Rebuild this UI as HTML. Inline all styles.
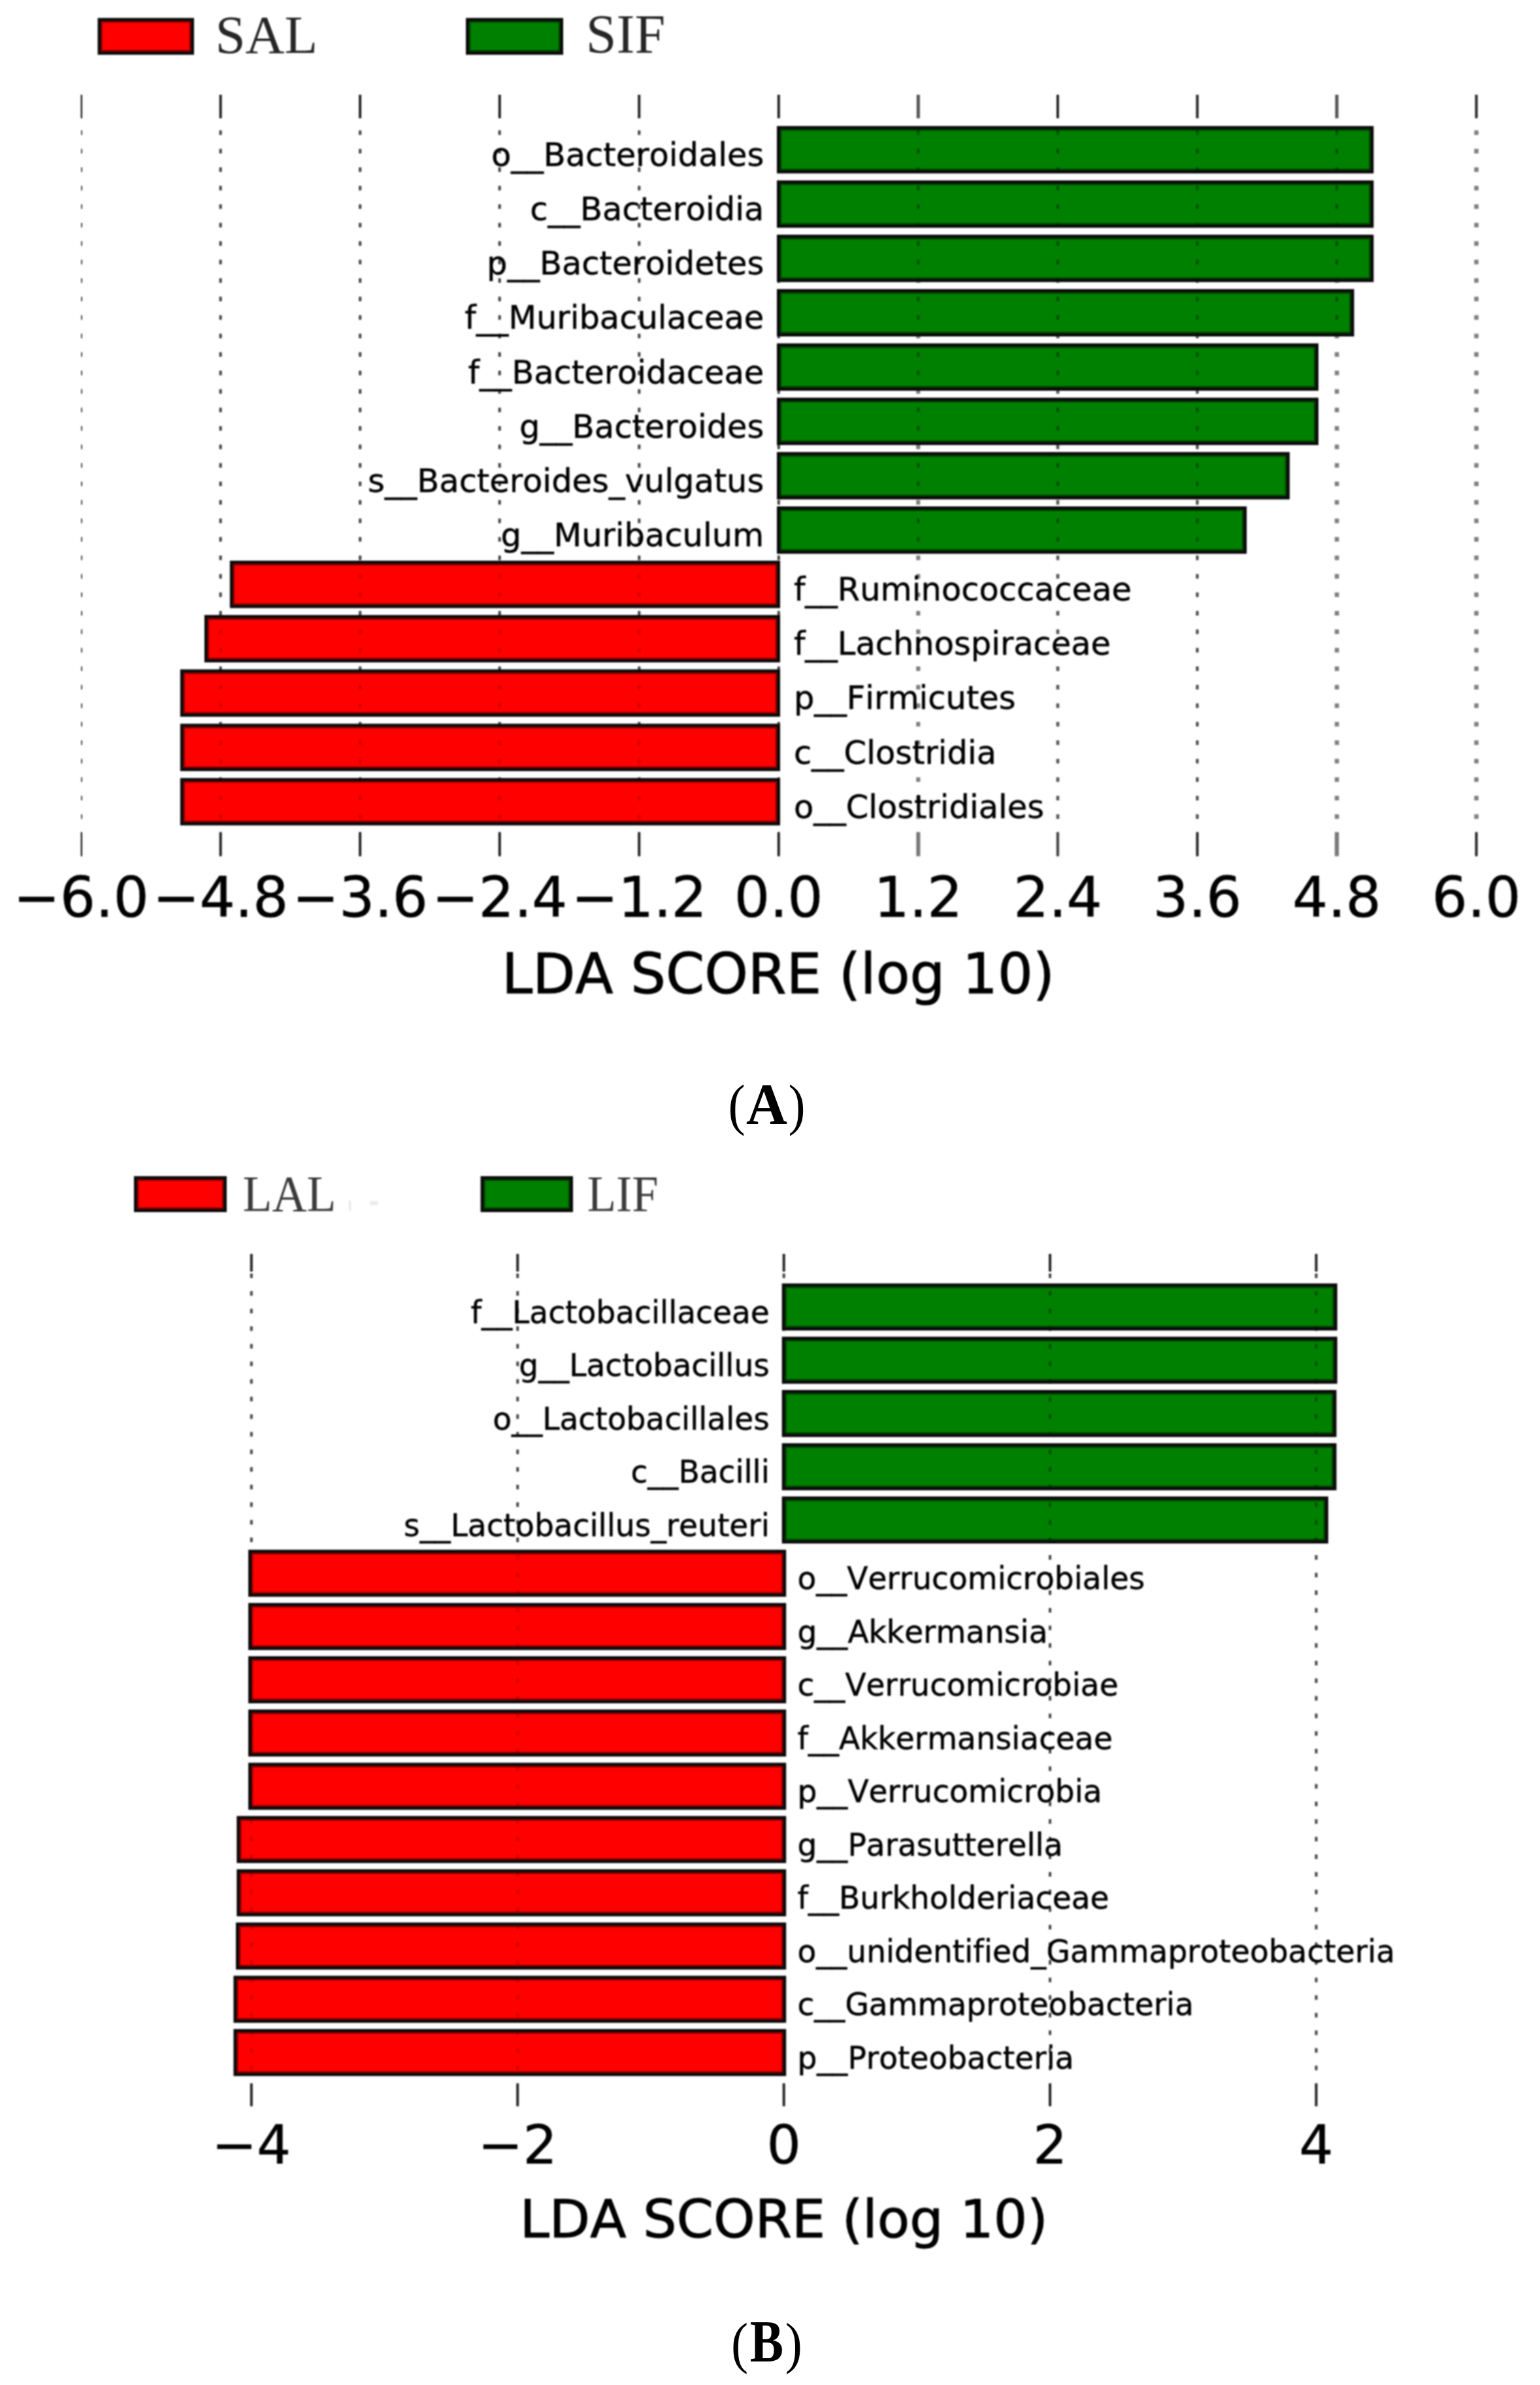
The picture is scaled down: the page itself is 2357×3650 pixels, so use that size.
<!DOCTYPE html>
<html lang="en"><head><meta charset="utf-8"><title>LDA SCORE figure</title>
<style>html,body{margin:0;padding:0;background:#fff}svg{display:block}</style></head>
<body>
<svg width="2357" height="3650" viewBox="0 0 2357 3650">
<rect width="2357" height="3650" fill="#fff"/>
<defs><filter id="soft" x="0" y="0" width="100%" height="100%" filterUnits="objectBoundingBox" color-interpolation-filters="sRGB"><feGaussianBlur stdDeviation="1"/></filter></defs>
<g filter="url(#soft)">
<rect width="2357" height="3650" fill="#fff"/>
<rect x="149.5" y="27.5" width="147.5" height="56.3" fill="#0a0a0a"/>
<rect x="154.2" y="32.2" width="138.1" height="46.9" fill="#8a0000"/>
<rect x="156.7" y="34.7" width="133.1" height="41.9" fill="#ff0000"/>
<rect x="713.0" y="27.5" width="149.0" height="56.3" fill="#0a0a0a"/>
<rect x="717.7" y="32.2" width="139.6" height="46.9" fill="#004400"/>
<rect x="720.2" y="34.7" width="134.6" height="41.9" fill="#008000"/>
<text x="329.4" y="80.5" font-family="Liberation Serif, serif" font-size="83" fill="#262626">SAL</text>
<text x="896.8" y="80.5" font-family="Liberation Serif, serif" font-size="84" fill="#262626">SIF</text>
<g fill="#484848" opacity="1.0"><rect x="124.0" y="199.5" width="2.0" height="7.0"/><rect x="124.0" y="227.8" width="2.0" height="7.0"/><rect x="124.0" y="256.1" width="2.0" height="7.0"/><rect x="124.0" y="284.4" width="2.0" height="7.0"/><rect x="124.0" y="312.7" width="2.0" height="7.0"/><rect x="124.0" y="341.0" width="2.0" height="7.0"/><rect x="124.0" y="369.2" width="2.0" height="7.0"/><rect x="124.0" y="397.5" width="2.0" height="7.0"/><rect x="124.0" y="425.8" width="2.0" height="7.0"/><rect x="124.0" y="454.1" width="2.0" height="7.0"/><rect x="124.0" y="482.4" width="2.0" height="7.0"/><rect x="124.0" y="510.7" width="2.0" height="7.0"/><rect x="124.0" y="539.0" width="2.0" height="7.0"/><rect x="124.0" y="567.3" width="2.0" height="7.0"/><rect x="124.0" y="595.6" width="2.0" height="7.0"/><rect x="124.0" y="623.9" width="2.0" height="7.0"/><rect x="124.0" y="652.1" width="2.0" height="7.0"/><rect x="124.0" y="680.4" width="2.0" height="7.0"/><rect x="124.0" y="708.7" width="2.0" height="7.0"/><rect x="124.0" y="737.0" width="2.0" height="7.0"/><rect x="124.0" y="765.3" width="2.0" height="7.0"/><rect x="124.0" y="793.6" width="2.0" height="7.0"/><rect x="124.0" y="821.9" width="2.0" height="7.0"/><rect x="124.0" y="850.2" width="2.0" height="7.0"/><rect x="124.0" y="878.5" width="2.0" height="7.0"/><rect x="124.0" y="906.7" width="2.0" height="7.0"/><rect x="124.0" y="935.0" width="2.0" height="7.0"/><rect x="124.0" y="963.3" width="2.0" height="7.0"/><rect x="124.0" y="991.6" width="2.0" height="7.0"/><rect x="124.0" y="1019.9" width="2.0" height="7.0"/><rect x="124.0" y="1048.2" width="2.0" height="7.0"/><rect x="124.0" y="1076.5" width="2.0" height="7.0"/><rect x="124.0" y="1104.8" width="2.0" height="7.0"/><rect x="124.0" y="1133.1" width="2.0" height="7.0"/><rect x="124.0" y="1161.4" width="2.0" height="7.0"/><rect x="124.0" y="1189.6" width="2.0" height="7.0"/><rect x="124.0" y="1217.9" width="2.0" height="7.0"/><rect x="124.0" y="1246.2" width="2.0" height="7.0"/></g>
<g fill="#484848" opacity="1.0"><rect x="335.5" y="199.5" width="4.1" height="7.0"/><rect x="335.5" y="227.8" width="4.1" height="7.0"/><rect x="335.5" y="256.1" width="4.1" height="7.0"/><rect x="335.5" y="284.4" width="4.1" height="7.0"/><rect x="335.5" y="312.7" width="4.1" height="7.0"/><rect x="335.5" y="341.0" width="4.1" height="7.0"/><rect x="335.5" y="369.2" width="4.1" height="7.0"/><rect x="335.5" y="397.5" width="4.1" height="7.0"/><rect x="335.5" y="425.8" width="4.1" height="7.0"/><rect x="335.5" y="454.1" width="4.1" height="7.0"/><rect x="335.5" y="482.4" width="4.1" height="7.0"/><rect x="335.5" y="510.7" width="4.1" height="7.0"/><rect x="335.5" y="539.0" width="4.1" height="7.0"/><rect x="335.5" y="567.3" width="4.1" height="7.0"/><rect x="335.5" y="595.6" width="4.1" height="7.0"/><rect x="335.5" y="623.9" width="4.1" height="7.0"/><rect x="335.5" y="652.1" width="4.1" height="7.0"/><rect x="335.5" y="680.4" width="4.1" height="7.0"/><rect x="335.5" y="708.7" width="4.1" height="7.0"/><rect x="335.5" y="737.0" width="4.1" height="7.0"/><rect x="335.5" y="765.3" width="4.1" height="7.0"/><rect x="335.5" y="793.6" width="4.1" height="7.0"/><rect x="335.5" y="821.9" width="4.1" height="7.0"/><rect x="335.5" y="850.2" width="4.1" height="7.0"/><rect x="335.5" y="878.5" width="4.1" height="7.0"/><rect x="335.5" y="906.7" width="4.1" height="7.0"/><rect x="335.5" y="935.0" width="4.1" height="7.0"/><rect x="335.5" y="963.3" width="4.1" height="7.0"/><rect x="335.5" y="991.6" width="4.1" height="7.0"/><rect x="335.5" y="1019.9" width="4.1" height="7.0"/><rect x="335.5" y="1048.2" width="4.1" height="7.0"/><rect x="335.5" y="1076.5" width="4.1" height="7.0"/><rect x="335.5" y="1104.8" width="4.1" height="7.0"/><rect x="335.5" y="1133.1" width="4.1" height="7.0"/><rect x="335.5" y="1161.4" width="4.1" height="7.0"/><rect x="335.5" y="1189.6" width="4.1" height="7.0"/><rect x="335.5" y="1217.9" width="4.1" height="7.0"/><rect x="335.5" y="1246.2" width="4.1" height="7.0"/></g>
<g fill="#484848" opacity="1.0"><rect x="549.1" y="199.5" width="4.1" height="7.0"/><rect x="549.1" y="227.8" width="4.1" height="7.0"/><rect x="549.1" y="256.1" width="4.1" height="7.0"/><rect x="549.1" y="284.4" width="4.1" height="7.0"/><rect x="549.1" y="312.7" width="4.1" height="7.0"/><rect x="549.1" y="341.0" width="4.1" height="7.0"/><rect x="549.1" y="369.2" width="4.1" height="7.0"/><rect x="549.1" y="397.5" width="4.1" height="7.0"/><rect x="549.1" y="425.8" width="4.1" height="7.0"/><rect x="549.1" y="454.1" width="4.1" height="7.0"/><rect x="549.1" y="482.4" width="4.1" height="7.0"/><rect x="549.1" y="510.7" width="4.1" height="7.0"/><rect x="549.1" y="539.0" width="4.1" height="7.0"/><rect x="549.1" y="567.3" width="4.1" height="7.0"/><rect x="549.1" y="595.6" width="4.1" height="7.0"/><rect x="549.1" y="623.9" width="4.1" height="7.0"/><rect x="549.1" y="652.1" width="4.1" height="7.0"/><rect x="549.1" y="680.4" width="4.1" height="7.0"/><rect x="549.1" y="708.7" width="4.1" height="7.0"/><rect x="549.1" y="737.0" width="4.1" height="7.0"/><rect x="549.1" y="765.3" width="4.1" height="7.0"/><rect x="549.1" y="793.6" width="4.1" height="7.0"/><rect x="549.1" y="821.9" width="4.1" height="7.0"/><rect x="549.1" y="850.2" width="4.1" height="7.0"/><rect x="549.1" y="878.5" width="4.1" height="7.0"/><rect x="549.1" y="906.7" width="4.1" height="7.0"/><rect x="549.1" y="935.0" width="4.1" height="7.0"/><rect x="549.1" y="963.3" width="4.1" height="7.0"/><rect x="549.1" y="991.6" width="4.1" height="7.0"/><rect x="549.1" y="1019.9" width="4.1" height="7.0"/><rect x="549.1" y="1048.2" width="4.1" height="7.0"/><rect x="549.1" y="1076.5" width="4.1" height="7.0"/><rect x="549.1" y="1104.8" width="4.1" height="7.0"/><rect x="549.1" y="1133.1" width="4.1" height="7.0"/><rect x="549.1" y="1161.4" width="4.1" height="7.0"/><rect x="549.1" y="1189.6" width="4.1" height="7.0"/><rect x="549.1" y="1217.9" width="4.1" height="7.0"/><rect x="549.1" y="1246.2" width="4.1" height="7.0"/></g>
<g fill="#484848" opacity="1.0"><rect x="762.6" y="199.5" width="4.1" height="7.0"/><rect x="762.6" y="227.8" width="4.1" height="7.0"/><rect x="762.6" y="256.1" width="4.1" height="7.0"/><rect x="762.6" y="284.4" width="4.1" height="7.0"/><rect x="762.6" y="312.7" width="4.1" height="7.0"/><rect x="762.6" y="341.0" width="4.1" height="7.0"/><rect x="762.6" y="369.2" width="4.1" height="7.0"/><rect x="762.6" y="397.5" width="4.1" height="7.0"/><rect x="762.6" y="425.8" width="4.1" height="7.0"/><rect x="762.6" y="454.1" width="4.1" height="7.0"/><rect x="762.6" y="482.4" width="4.1" height="7.0"/><rect x="762.6" y="510.7" width="4.1" height="7.0"/><rect x="762.6" y="539.0" width="4.1" height="7.0"/><rect x="762.6" y="567.3" width="4.1" height="7.0"/><rect x="762.6" y="595.6" width="4.1" height="7.0"/><rect x="762.6" y="623.9" width="4.1" height="7.0"/><rect x="762.6" y="652.1" width="4.1" height="7.0"/><rect x="762.6" y="680.4" width="4.1" height="7.0"/><rect x="762.6" y="708.7" width="4.1" height="7.0"/><rect x="762.6" y="737.0" width="4.1" height="7.0"/><rect x="762.6" y="765.3" width="4.1" height="7.0"/><rect x="762.6" y="793.6" width="4.1" height="7.0"/><rect x="762.6" y="821.9" width="4.1" height="7.0"/><rect x="762.6" y="850.2" width="4.1" height="7.0"/><rect x="762.6" y="878.5" width="4.1" height="7.0"/><rect x="762.6" y="906.7" width="4.1" height="7.0"/><rect x="762.6" y="935.0" width="4.1" height="7.0"/><rect x="762.6" y="963.3" width="4.1" height="7.0"/><rect x="762.6" y="991.6" width="4.1" height="7.0"/><rect x="762.6" y="1019.9" width="4.1" height="7.0"/><rect x="762.6" y="1048.2" width="4.1" height="7.0"/><rect x="762.6" y="1076.5" width="4.1" height="7.0"/><rect x="762.6" y="1104.8" width="4.1" height="7.0"/><rect x="762.6" y="1133.1" width="4.1" height="7.0"/><rect x="762.6" y="1161.4" width="4.1" height="7.0"/><rect x="762.6" y="1189.6" width="4.1" height="7.0"/><rect x="762.6" y="1217.9" width="4.1" height="7.0"/><rect x="762.6" y="1246.2" width="4.1" height="7.0"/></g>
<g fill="#484848" opacity="1.0"><rect x="976.2" y="199.5" width="4.1" height="7.0"/><rect x="976.2" y="227.8" width="4.1" height="7.0"/><rect x="976.2" y="256.1" width="4.1" height="7.0"/><rect x="976.2" y="284.4" width="4.1" height="7.0"/><rect x="976.2" y="312.7" width="4.1" height="7.0"/><rect x="976.2" y="341.0" width="4.1" height="7.0"/><rect x="976.2" y="369.2" width="4.1" height="7.0"/><rect x="976.2" y="397.5" width="4.1" height="7.0"/><rect x="976.2" y="425.8" width="4.1" height="7.0"/><rect x="976.2" y="454.1" width="4.1" height="7.0"/><rect x="976.2" y="482.4" width="4.1" height="7.0"/><rect x="976.2" y="510.7" width="4.1" height="7.0"/><rect x="976.2" y="539.0" width="4.1" height="7.0"/><rect x="976.2" y="567.3" width="4.1" height="7.0"/><rect x="976.2" y="595.6" width="4.1" height="7.0"/><rect x="976.2" y="623.9" width="4.1" height="7.0"/><rect x="976.2" y="652.1" width="4.1" height="7.0"/><rect x="976.2" y="680.4" width="4.1" height="7.0"/><rect x="976.2" y="708.7" width="4.1" height="7.0"/><rect x="976.2" y="737.0" width="4.1" height="7.0"/><rect x="976.2" y="765.3" width="4.1" height="7.0"/><rect x="976.2" y="793.6" width="4.1" height="7.0"/><rect x="976.2" y="821.9" width="4.1" height="7.0"/><rect x="976.2" y="850.2" width="4.1" height="7.0"/><rect x="976.2" y="878.5" width="4.1" height="7.0"/><rect x="976.2" y="906.7" width="4.1" height="7.0"/><rect x="976.2" y="935.0" width="4.1" height="7.0"/><rect x="976.2" y="963.3" width="4.1" height="7.0"/><rect x="976.2" y="991.6" width="4.1" height="7.0"/><rect x="976.2" y="1019.9" width="4.1" height="7.0"/><rect x="976.2" y="1048.2" width="4.1" height="7.0"/><rect x="976.2" y="1076.5" width="4.1" height="7.0"/><rect x="976.2" y="1104.8" width="4.1" height="7.0"/><rect x="976.2" y="1133.1" width="4.1" height="7.0"/><rect x="976.2" y="1161.4" width="4.1" height="7.0"/><rect x="976.2" y="1189.6" width="4.1" height="7.0"/><rect x="976.2" y="1217.9" width="4.1" height="7.0"/><rect x="976.2" y="1246.2" width="4.1" height="7.0"/></g>
<g fill="#484848" opacity="1.0"><rect x="1189.8" y="199.5" width="4.1" height="7.0"/><rect x="1189.8" y="227.8" width="4.1" height="7.0"/><rect x="1189.8" y="256.1" width="4.1" height="7.0"/><rect x="1189.8" y="284.4" width="4.1" height="7.0"/><rect x="1189.8" y="312.7" width="4.1" height="7.0"/><rect x="1189.8" y="341.0" width="4.1" height="7.0"/><rect x="1189.8" y="369.2" width="4.1" height="7.0"/><rect x="1189.8" y="397.5" width="4.1" height="7.0"/><rect x="1189.8" y="425.8" width="4.1" height="7.0"/><rect x="1189.8" y="454.1" width="4.1" height="7.0"/><rect x="1189.8" y="482.4" width="4.1" height="7.0"/><rect x="1189.8" y="510.7" width="4.1" height="7.0"/><rect x="1189.8" y="539.0" width="4.1" height="7.0"/><rect x="1189.8" y="567.3" width="4.1" height="7.0"/><rect x="1189.8" y="595.6" width="4.1" height="7.0"/><rect x="1189.8" y="623.9" width="4.1" height="7.0"/><rect x="1189.8" y="652.1" width="4.1" height="7.0"/><rect x="1189.8" y="680.4" width="4.1" height="7.0"/><rect x="1189.8" y="708.7" width="4.1" height="7.0"/><rect x="1189.8" y="737.0" width="4.1" height="7.0"/><rect x="1189.8" y="765.3" width="4.1" height="7.0"/><rect x="1189.8" y="793.6" width="4.1" height="7.0"/><rect x="1189.8" y="821.9" width="4.1" height="7.0"/><rect x="1189.8" y="850.2" width="4.1" height="7.0"/><rect x="1189.8" y="878.5" width="4.1" height="7.0"/><rect x="1189.8" y="906.7" width="4.1" height="7.0"/><rect x="1189.8" y="935.0" width="4.1" height="7.0"/><rect x="1189.8" y="963.3" width="4.1" height="7.0"/><rect x="1189.8" y="991.6" width="4.1" height="7.0"/><rect x="1189.8" y="1019.9" width="4.1" height="7.0"/><rect x="1189.8" y="1048.2" width="4.1" height="7.0"/><rect x="1189.8" y="1076.5" width="4.1" height="7.0"/><rect x="1189.8" y="1104.8" width="4.1" height="7.0"/><rect x="1189.8" y="1133.1" width="4.1" height="7.0"/><rect x="1189.8" y="1161.4" width="4.1" height="7.0"/><rect x="1189.8" y="1189.6" width="4.1" height="7.0"/><rect x="1189.8" y="1217.9" width="4.1" height="7.0"/><rect x="1189.8" y="1246.2" width="4.1" height="7.0"/></g>
<g fill="#7d7d7d" opacity="1.0"><rect x="1402.3" y="199.5" width="6.1" height="7.0"/><rect x="1402.3" y="227.8" width="6.1" height="7.0"/><rect x="1402.3" y="256.1" width="6.1" height="7.0"/><rect x="1402.3" y="284.4" width="6.1" height="7.0"/><rect x="1402.3" y="312.7" width="6.1" height="7.0"/><rect x="1402.3" y="341.0" width="6.1" height="7.0"/><rect x="1402.3" y="369.2" width="6.1" height="7.0"/><rect x="1402.3" y="397.5" width="6.1" height="7.0"/><rect x="1402.3" y="425.8" width="6.1" height="7.0"/><rect x="1402.3" y="454.1" width="6.1" height="7.0"/><rect x="1402.3" y="482.4" width="6.1" height="7.0"/><rect x="1402.3" y="510.7" width="6.1" height="7.0"/><rect x="1402.3" y="539.0" width="6.1" height="7.0"/><rect x="1402.3" y="567.3" width="6.1" height="7.0"/><rect x="1402.3" y="595.6" width="6.1" height="7.0"/><rect x="1402.3" y="623.9" width="6.1" height="7.0"/><rect x="1402.3" y="652.1" width="6.1" height="7.0"/><rect x="1402.3" y="680.4" width="6.1" height="7.0"/><rect x="1402.3" y="708.7" width="6.1" height="7.0"/><rect x="1402.3" y="737.0" width="6.1" height="7.0"/><rect x="1402.3" y="765.3" width="6.1" height="7.0"/><rect x="1402.3" y="793.6" width="6.1" height="7.0"/><rect x="1402.3" y="821.9" width="6.1" height="7.0"/><rect x="1402.3" y="850.2" width="6.1" height="7.0"/><rect x="1402.3" y="878.5" width="6.1" height="7.0"/><rect x="1402.3" y="906.7" width="6.1" height="7.0"/><rect x="1402.3" y="935.0" width="6.1" height="7.0"/><rect x="1402.3" y="963.3" width="6.1" height="7.0"/><rect x="1402.3" y="991.6" width="6.1" height="7.0"/><rect x="1402.3" y="1019.9" width="6.1" height="7.0"/><rect x="1402.3" y="1048.2" width="6.1" height="7.0"/><rect x="1402.3" y="1076.5" width="6.1" height="7.0"/><rect x="1402.3" y="1104.8" width="6.1" height="7.0"/><rect x="1402.3" y="1133.1" width="6.1" height="7.0"/><rect x="1402.3" y="1161.4" width="6.1" height="7.0"/><rect x="1402.3" y="1189.6" width="6.1" height="7.0"/><rect x="1402.3" y="1217.9" width="6.1" height="7.0"/><rect x="1402.3" y="1246.2" width="6.1" height="7.0"/></g>
<g fill="#5a5a5a" opacity="1.0"><rect x="1616.6" y="199.5" width="4.7" height="7.0"/><rect x="1616.6" y="227.8" width="4.7" height="7.0"/><rect x="1616.6" y="256.1" width="4.7" height="7.0"/><rect x="1616.6" y="284.4" width="4.7" height="7.0"/><rect x="1616.6" y="312.7" width="4.7" height="7.0"/><rect x="1616.6" y="341.0" width="4.7" height="7.0"/><rect x="1616.6" y="369.2" width="4.7" height="7.0"/><rect x="1616.6" y="397.5" width="4.7" height="7.0"/><rect x="1616.6" y="425.8" width="4.7" height="7.0"/><rect x="1616.6" y="454.1" width="4.7" height="7.0"/><rect x="1616.6" y="482.4" width="4.7" height="7.0"/><rect x="1616.6" y="510.7" width="4.7" height="7.0"/><rect x="1616.6" y="539.0" width="4.7" height="7.0"/><rect x="1616.6" y="567.3" width="4.7" height="7.0"/><rect x="1616.6" y="595.6" width="4.7" height="7.0"/><rect x="1616.6" y="623.9" width="4.7" height="7.0"/><rect x="1616.6" y="652.1" width="4.7" height="7.0"/><rect x="1616.6" y="680.4" width="4.7" height="7.0"/><rect x="1616.6" y="708.7" width="4.7" height="7.0"/><rect x="1616.6" y="737.0" width="4.7" height="7.0"/><rect x="1616.6" y="765.3" width="4.7" height="7.0"/><rect x="1616.6" y="793.6" width="4.7" height="7.0"/><rect x="1616.6" y="821.9" width="4.7" height="7.0"/><rect x="1616.6" y="850.2" width="4.7" height="7.0"/><rect x="1616.6" y="878.5" width="4.7" height="7.0"/><rect x="1616.6" y="906.7" width="4.7" height="7.0"/><rect x="1616.6" y="935.0" width="4.7" height="7.0"/><rect x="1616.6" y="963.3" width="4.7" height="7.0"/><rect x="1616.6" y="991.6" width="4.7" height="7.0"/><rect x="1616.6" y="1019.9" width="4.7" height="7.0"/><rect x="1616.6" y="1048.2" width="4.7" height="7.0"/><rect x="1616.6" y="1076.5" width="4.7" height="7.0"/><rect x="1616.6" y="1104.8" width="4.7" height="7.0"/><rect x="1616.6" y="1133.1" width="4.7" height="7.0"/><rect x="1616.6" y="1161.4" width="4.7" height="7.0"/><rect x="1616.6" y="1189.6" width="4.7" height="7.0"/><rect x="1616.6" y="1217.9" width="4.7" height="7.0"/><rect x="1616.6" y="1246.2" width="4.7" height="7.0"/></g>
<g fill="#484848" opacity="1.0"><rect x="1830.4" y="199.5" width="4.1" height="7.0"/><rect x="1830.4" y="227.8" width="4.1" height="7.0"/><rect x="1830.4" y="256.1" width="4.1" height="7.0"/><rect x="1830.4" y="284.4" width="4.1" height="7.0"/><rect x="1830.4" y="312.7" width="4.1" height="7.0"/><rect x="1830.4" y="341.0" width="4.1" height="7.0"/><rect x="1830.4" y="369.2" width="4.1" height="7.0"/><rect x="1830.4" y="397.5" width="4.1" height="7.0"/><rect x="1830.4" y="425.8" width="4.1" height="7.0"/><rect x="1830.4" y="454.1" width="4.1" height="7.0"/><rect x="1830.4" y="482.4" width="4.1" height="7.0"/><rect x="1830.4" y="510.7" width="4.1" height="7.0"/><rect x="1830.4" y="539.0" width="4.1" height="7.0"/><rect x="1830.4" y="567.3" width="4.1" height="7.0"/><rect x="1830.4" y="595.6" width="4.1" height="7.0"/><rect x="1830.4" y="623.9" width="4.1" height="7.0"/><rect x="1830.4" y="652.1" width="4.1" height="7.0"/><rect x="1830.4" y="680.4" width="4.1" height="7.0"/><rect x="1830.4" y="708.7" width="4.1" height="7.0"/><rect x="1830.4" y="737.0" width="4.1" height="7.0"/><rect x="1830.4" y="765.3" width="4.1" height="7.0"/><rect x="1830.4" y="793.6" width="4.1" height="7.0"/><rect x="1830.4" y="821.9" width="4.1" height="7.0"/><rect x="1830.4" y="850.2" width="4.1" height="7.0"/><rect x="1830.4" y="878.5" width="4.1" height="7.0"/><rect x="1830.4" y="906.7" width="4.1" height="7.0"/><rect x="1830.4" y="935.0" width="4.1" height="7.0"/><rect x="1830.4" y="963.3" width="4.1" height="7.0"/><rect x="1830.4" y="991.6" width="4.1" height="7.0"/><rect x="1830.4" y="1019.9" width="4.1" height="7.0"/><rect x="1830.4" y="1048.2" width="4.1" height="7.0"/><rect x="1830.4" y="1076.5" width="4.1" height="7.0"/><rect x="1830.4" y="1104.8" width="4.1" height="7.0"/><rect x="1830.4" y="1133.1" width="4.1" height="7.0"/><rect x="1830.4" y="1161.4" width="4.1" height="7.0"/><rect x="1830.4" y="1189.6" width="4.1" height="7.0"/><rect x="1830.4" y="1217.9" width="4.1" height="7.0"/><rect x="1830.4" y="1246.2" width="4.1" height="7.0"/></g>
<g fill="#808080" opacity="1.0"><rect x="2042.8" y="199.5" width="6.6" height="7.0"/><rect x="2042.8" y="227.8" width="6.6" height="7.0"/><rect x="2042.8" y="256.1" width="6.6" height="7.0"/><rect x="2042.8" y="284.4" width="6.6" height="7.0"/><rect x="2042.8" y="312.7" width="6.6" height="7.0"/><rect x="2042.8" y="341.0" width="6.6" height="7.0"/><rect x="2042.8" y="369.2" width="6.6" height="7.0"/><rect x="2042.8" y="397.5" width="6.6" height="7.0"/><rect x="2042.8" y="425.8" width="6.6" height="7.0"/><rect x="2042.8" y="454.1" width="6.6" height="7.0"/><rect x="2042.8" y="482.4" width="6.6" height="7.0"/><rect x="2042.8" y="510.7" width="6.6" height="7.0"/><rect x="2042.8" y="539.0" width="6.6" height="7.0"/><rect x="2042.8" y="567.3" width="6.6" height="7.0"/><rect x="2042.8" y="595.6" width="6.6" height="7.0"/><rect x="2042.8" y="623.9" width="6.6" height="7.0"/><rect x="2042.8" y="652.1" width="6.6" height="7.0"/><rect x="2042.8" y="680.4" width="6.6" height="7.0"/><rect x="2042.8" y="708.7" width="6.6" height="7.0"/><rect x="2042.8" y="737.0" width="6.6" height="7.0"/><rect x="2042.8" y="765.3" width="6.6" height="7.0"/><rect x="2042.8" y="793.6" width="6.6" height="7.0"/><rect x="2042.8" y="821.9" width="6.6" height="7.0"/><rect x="2042.8" y="850.2" width="6.6" height="7.0"/><rect x="2042.8" y="878.5" width="6.6" height="7.0"/><rect x="2042.8" y="906.7" width="6.6" height="7.0"/><rect x="2042.8" y="935.0" width="6.6" height="7.0"/><rect x="2042.8" y="963.3" width="6.6" height="7.0"/><rect x="2042.8" y="991.6" width="6.6" height="7.0"/><rect x="2042.8" y="1019.9" width="6.6" height="7.0"/><rect x="2042.8" y="1048.2" width="6.6" height="7.0"/><rect x="2042.8" y="1076.5" width="6.6" height="7.0"/><rect x="2042.8" y="1104.8" width="6.6" height="7.0"/><rect x="2042.8" y="1133.1" width="6.6" height="7.0"/><rect x="2042.8" y="1161.4" width="6.6" height="7.0"/><rect x="2042.8" y="1189.6" width="6.6" height="7.0"/><rect x="2042.8" y="1217.9" width="6.6" height="7.0"/><rect x="2042.8" y="1246.2" width="6.6" height="7.0"/></g>
<g fill="#808080" opacity="1.0"><rect x="2256.3" y="199.5" width="6.6" height="7.0"/><rect x="2256.3" y="227.8" width="6.6" height="7.0"/><rect x="2256.3" y="256.1" width="6.6" height="7.0"/><rect x="2256.3" y="284.4" width="6.6" height="7.0"/><rect x="2256.3" y="312.7" width="6.6" height="7.0"/><rect x="2256.3" y="341.0" width="6.6" height="7.0"/><rect x="2256.3" y="369.2" width="6.6" height="7.0"/><rect x="2256.3" y="397.5" width="6.6" height="7.0"/><rect x="2256.3" y="425.8" width="6.6" height="7.0"/><rect x="2256.3" y="454.1" width="6.6" height="7.0"/><rect x="2256.3" y="482.4" width="6.6" height="7.0"/><rect x="2256.3" y="510.7" width="6.6" height="7.0"/><rect x="2256.3" y="539.0" width="6.6" height="7.0"/><rect x="2256.3" y="567.3" width="6.6" height="7.0"/><rect x="2256.3" y="595.6" width="6.6" height="7.0"/><rect x="2256.3" y="623.9" width="6.6" height="7.0"/><rect x="2256.3" y="652.1" width="6.6" height="7.0"/><rect x="2256.3" y="680.4" width="6.6" height="7.0"/><rect x="2256.3" y="708.7" width="6.6" height="7.0"/><rect x="2256.3" y="737.0" width="6.6" height="7.0"/><rect x="2256.3" y="765.3" width="6.6" height="7.0"/><rect x="2256.3" y="793.6" width="6.6" height="7.0"/><rect x="2256.3" y="821.9" width="6.6" height="7.0"/><rect x="2256.3" y="850.2" width="6.6" height="7.0"/><rect x="2256.3" y="878.5" width="6.6" height="7.0"/><rect x="2256.3" y="906.7" width="6.6" height="7.0"/><rect x="2256.3" y="935.0" width="6.6" height="7.0"/><rect x="2256.3" y="963.3" width="6.6" height="7.0"/><rect x="2256.3" y="991.6" width="6.6" height="7.0"/><rect x="2256.3" y="1019.9" width="6.6" height="7.0"/><rect x="2256.3" y="1048.2" width="6.6" height="7.0"/><rect x="2256.3" y="1076.5" width="6.6" height="7.0"/><rect x="2256.3" y="1104.8" width="6.6" height="7.0"/><rect x="2256.3" y="1133.1" width="6.6" height="7.0"/><rect x="2256.3" y="1161.4" width="6.6" height="7.0"/><rect x="2256.3" y="1189.6" width="6.6" height="7.0"/><rect x="2256.3" y="1217.9" width="6.6" height="7.0"/><rect x="2256.3" y="1246.2" width="6.6" height="7.0"/></g>
<rect x="123.5" y="145.0" width="2.5" height="36.0" fill="#262626"/>
<rect x="335.6" y="145.0" width="4.0" height="36.0" fill="#262626"/>
<rect x="549.1" y="145.0" width="4.0" height="36.0" fill="#262626"/>
<rect x="762.7" y="145.0" width="4.0" height="36.0" fill="#262626"/>
<rect x="976.2" y="145.0" width="4.0" height="36.0" fill="#262626"/>
<rect x="1189.8" y="145.0" width="4.0" height="36.0" fill="#262626"/>
<rect x="1402.9" y="145.0" width="5.0" height="36.0" fill="#555"/>
<rect x="1616.9" y="145.0" width="4.0" height="36.0" fill="#262626"/>
<rect x="1830.5" y="145.0" width="4.0" height="36.0" fill="#262626"/>
<rect x="2043.5" y="145.0" width="5.0" height="36.0" fill="#555"/>
<rect x="2257.6" y="145.0" width="4.0" height="36.0" fill="#262626"/>
<rect x="123.5" y="1273.4" width="2.5" height="37.0" fill="#262626"/>
<rect x="335.6" y="1273.4" width="4.0" height="37.0" fill="#262626"/>
<rect x="549.1" y="1273.4" width="4.0" height="37.0" fill="#262626"/>
<rect x="762.7" y="1273.4" width="4.0" height="37.0" fill="#262626"/>
<rect x="976.2" y="1273.4" width="4.0" height="37.0" fill="#262626"/>
<rect x="1189.8" y="1273.4" width="4.0" height="37.0" fill="#262626"/>
<rect x="1402.4" y="1273.4" width="6.0" height="37.0" fill="#777"/>
<rect x="1616.7" y="1273.4" width="4.4" height="37.0" fill="#4a4a4a"/>
<rect x="1830.5" y="1273.4" width="4.0" height="37.0" fill="#262626"/>
<rect x="2042.8" y="1273.4" width="6.4" height="37.0" fill="#7a7a7a"/>
<rect x="2257.6" y="1273.4" width="4.0" height="37.0" fill="#262626"/>
<rect x="1189.0" y="192.9" width="913.4" height="72.5" fill="#0a0a0a"/>
<rect x="1193.7" y="197.6" width="904.0" height="63.1" fill="#004400"/>
<rect x="1196.2" y="200.1" width="899.0" height="58.1" fill="#008000"/>
<rect x="1189.0" y="276.1" width="913.4" height="72.5" fill="#0a0a0a"/>
<rect x="1193.7" y="280.8" width="904.0" height="63.1" fill="#004400"/>
<rect x="1196.2" y="283.2" width="899.0" height="58.1" fill="#008000"/>
<rect x="1189.0" y="359.2" width="913.4" height="72.5" fill="#0a0a0a"/>
<rect x="1193.7" y="363.9" width="904.0" height="63.1" fill="#004400"/>
<rect x="1196.2" y="366.4" width="899.0" height="58.1" fill="#008000"/>
<rect x="1189.0" y="442.4" width="883.5" height="72.5" fill="#0a0a0a"/>
<rect x="1193.7" y="447.1" width="874.1" height="63.1" fill="#004400"/>
<rect x="1196.2" y="449.6" width="869.1" height="58.1" fill="#008000"/>
<rect x="1189.0" y="525.5" width="828.9" height="72.5" fill="#0a0a0a"/>
<rect x="1193.7" y="530.2" width="819.5" height="63.1" fill="#004400"/>
<rect x="1196.2" y="532.7" width="814.5" height="58.1" fill="#008000"/>
<rect x="1189.0" y="608.6" width="828.9" height="72.5" fill="#0a0a0a"/>
<rect x="1193.7" y="613.4" width="819.5" height="63.1" fill="#004400"/>
<rect x="1196.2" y="615.9" width="814.5" height="58.1" fill="#008000"/>
<rect x="1189.0" y="691.8" width="784.9" height="72.5" fill="#0a0a0a"/>
<rect x="1193.7" y="696.5" width="775.5" height="63.1" fill="#004400"/>
<rect x="1196.2" y="699.0" width="770.5" height="58.1" fill="#008000"/>
<rect x="1189.0" y="775.0" width="719.1" height="72.5" fill="#0a0a0a"/>
<rect x="1193.7" y="779.7" width="709.7" height="63.1" fill="#004400"/>
<rect x="1196.2" y="782.2" width="704.7" height="58.1" fill="#008000"/>
<rect x="351.8" y="858.1" width="842.2" height="72.5" fill="#0a0a0a"/>
<rect x="356.5" y="862.8" width="832.8" height="63.1" fill="#8a0000"/>
<rect x="359.0" y="865.3" width="827.8" height="58.1" fill="#ff0000"/>
<rect x="312.8" y="941.2" width="881.2" height="72.5" fill="#0a0a0a"/>
<rect x="317.5" y="946.0" width="871.8" height="63.1" fill="#8a0000"/>
<rect x="320.0" y="948.5" width="866.8" height="58.1" fill="#ff0000"/>
<rect x="275.8" y="1024.4" width="918.2" height="72.5" fill="#0a0a0a"/>
<rect x="280.5" y="1029.1" width="908.8" height="63.1" fill="#8a0000"/>
<rect x="283.0" y="1031.6" width="903.8" height="58.1" fill="#ff0000"/>
<rect x="275.8" y="1107.6" width="918.2" height="72.5" fill="#0a0a0a"/>
<rect x="280.5" y="1112.3" width="908.8" height="63.1" fill="#8a0000"/>
<rect x="283.0" y="1114.8" width="903.8" height="58.1" fill="#ff0000"/>
<rect x="275.8" y="1190.7" width="918.2" height="72.5" fill="#0a0a0a"/>
<rect x="280.5" y="1195.4" width="908.8" height="63.1" fill="#8a0000"/>
<rect x="283.0" y="1197.9" width="903.8" height="58.1" fill="#ff0000"/>
<g fill="#000" opacity="0.36"><rect x="1403.3" y="199.5" width="4.1" height="7.0"/><rect x="1403.3" y="227.8" width="4.1" height="7.0"/><rect x="1403.3" y="256.1" width="4.1" height="4.3"/><rect x="1403.3" y="284.4" width="4.1" height="7.0"/><rect x="1403.3" y="312.7" width="4.1" height="7.0"/><rect x="1403.3" y="341.0" width="4.1" height="2.6"/><rect x="1403.3" y="369.2" width="4.1" height="7.0"/><rect x="1403.3" y="397.5" width="4.1" height="7.0"/><rect x="1403.3" y="425.8" width="4.1" height="0.9"/><rect x="1403.3" y="454.1" width="4.1" height="7.0"/><rect x="1403.3" y="482.4" width="4.1" height="7.0"/><rect x="1403.3" y="539.0" width="4.1" height="7.0"/><rect x="1403.3" y="567.3" width="4.1" height="7.0"/><rect x="1403.3" y="623.9" width="4.1" height="7.0"/><rect x="1403.3" y="652.1" width="4.1" height="7.0"/><rect x="1403.3" y="708.7" width="4.1" height="7.0"/><rect x="1403.3" y="737.0" width="4.1" height="7.0"/><rect x="1403.3" y="793.6" width="4.1" height="7.0"/><rect x="1403.3" y="821.9" width="4.1" height="7.0"/><rect x="1616.9" y="199.5" width="4.1" height="7.0"/><rect x="1616.9" y="227.8" width="4.1" height="7.0"/><rect x="1616.9" y="256.1" width="4.1" height="4.3"/><rect x="1616.9" y="284.4" width="4.1" height="7.0"/><rect x="1616.9" y="312.7" width="4.1" height="7.0"/><rect x="1616.9" y="341.0" width="4.1" height="2.6"/><rect x="1616.9" y="369.2" width="4.1" height="7.0"/><rect x="1616.9" y="397.5" width="4.1" height="7.0"/><rect x="1616.9" y="425.8" width="4.1" height="0.9"/><rect x="1616.9" y="454.1" width="4.1" height="7.0"/><rect x="1616.9" y="482.4" width="4.1" height="7.0"/><rect x="1616.9" y="539.0" width="4.1" height="7.0"/><rect x="1616.9" y="567.3" width="4.1" height="7.0"/><rect x="1616.9" y="623.9" width="4.1" height="7.0"/><rect x="1616.9" y="652.1" width="4.1" height="7.0"/><rect x="1616.9" y="708.7" width="4.1" height="7.0"/><rect x="1616.9" y="737.0" width="4.1" height="7.0"/><rect x="1616.9" y="793.6" width="4.1" height="7.0"/><rect x="1616.9" y="821.9" width="4.1" height="7.0"/><rect x="1830.4" y="199.5" width="4.1" height="7.0"/><rect x="1830.4" y="227.8" width="4.1" height="7.0"/><rect x="1830.4" y="256.1" width="4.1" height="4.3"/><rect x="1830.4" y="284.4" width="4.1" height="7.0"/><rect x="1830.4" y="312.7" width="4.1" height="7.0"/><rect x="1830.4" y="341.0" width="4.1" height="2.6"/><rect x="1830.4" y="369.2" width="4.1" height="7.0"/><rect x="1830.4" y="397.5" width="4.1" height="7.0"/><rect x="1830.4" y="425.8" width="4.1" height="0.9"/><rect x="1830.4" y="454.1" width="4.1" height="7.0"/><rect x="1830.4" y="482.4" width="4.1" height="7.0"/><rect x="1830.4" y="539.0" width="4.1" height="7.0"/><rect x="1830.4" y="567.3" width="4.1" height="7.0"/><rect x="1830.4" y="623.9" width="4.1" height="7.0"/><rect x="1830.4" y="652.1" width="4.1" height="7.0"/><rect x="1830.4" y="708.7" width="4.1" height="7.0"/><rect x="1830.4" y="737.0" width="4.1" height="7.0"/><rect x="1830.4" y="793.6" width="4.1" height="7.0"/><rect x="1830.4" y="821.9" width="4.1" height="7.0"/><rect x="2044.0" y="199.5" width="4.1" height="7.0"/><rect x="2044.0" y="227.8" width="4.1" height="7.0"/><rect x="2044.0" y="256.1" width="4.1" height="4.3"/><rect x="2044.0" y="284.4" width="4.1" height="7.0"/><rect x="2044.0" y="312.7" width="4.1" height="7.0"/><rect x="2044.0" y="341.0" width="4.1" height="2.6"/><rect x="2044.0" y="369.2" width="4.1" height="7.0"/><rect x="2044.0" y="397.5" width="4.1" height="7.0"/><rect x="2044.0" y="425.8" width="4.1" height="0.9"/><rect x="2044.0" y="454.1" width="4.1" height="7.0"/><rect x="2044.0" y="482.4" width="4.1" height="7.0"/></g>
<g fill="#300" opacity="0.2"><rect x="335.5" y="963.3" width="4.1" height="7.0"/><rect x="335.5" y="991.6" width="4.1" height="7.0"/><rect x="335.5" y="1048.2" width="4.1" height="7.0"/><rect x="335.5" y="1076.5" width="4.1" height="7.0"/><rect x="335.5" y="1133.1" width="4.1" height="7.0"/><rect x="335.5" y="1161.4" width="4.1" height="7.0"/><rect x="335.5" y="1195.7" width="4.1" height="0.9"/><rect x="335.5" y="1217.9" width="4.1" height="7.0"/><rect x="335.5" y="1246.2" width="4.1" height="7.0"/><rect x="549.1" y="878.5" width="4.1" height="7.0"/><rect x="549.1" y="906.7" width="4.1" height="7.0"/><rect x="549.1" y="963.3" width="4.1" height="7.0"/><rect x="549.1" y="991.6" width="4.1" height="7.0"/><rect x="549.1" y="1048.2" width="4.1" height="7.0"/><rect x="549.1" y="1076.5" width="4.1" height="7.0"/><rect x="549.1" y="1133.1" width="4.1" height="7.0"/><rect x="549.1" y="1161.4" width="4.1" height="7.0"/><rect x="549.1" y="1195.7" width="4.1" height="0.9"/><rect x="549.1" y="1217.9" width="4.1" height="7.0"/><rect x="549.1" y="1246.2" width="4.1" height="7.0"/><rect x="762.6" y="878.5" width="4.1" height="7.0"/><rect x="762.6" y="906.7" width="4.1" height="7.0"/><rect x="762.6" y="963.3" width="4.1" height="7.0"/><rect x="762.6" y="991.6" width="4.1" height="7.0"/><rect x="762.6" y="1048.2" width="4.1" height="7.0"/><rect x="762.6" y="1076.5" width="4.1" height="7.0"/><rect x="762.6" y="1133.1" width="4.1" height="7.0"/><rect x="762.6" y="1161.4" width="4.1" height="7.0"/><rect x="762.6" y="1195.7" width="4.1" height="0.9"/><rect x="762.6" y="1217.9" width="4.1" height="7.0"/><rect x="762.6" y="1246.2" width="4.1" height="7.0"/><rect x="976.2" y="878.5" width="4.1" height="7.0"/><rect x="976.2" y="906.7" width="4.1" height="7.0"/><rect x="976.2" y="963.3" width="4.1" height="7.0"/><rect x="976.2" y="991.6" width="4.1" height="7.0"/><rect x="976.2" y="1048.2" width="4.1" height="7.0"/><rect x="976.2" y="1076.5" width="4.1" height="7.0"/><rect x="976.2" y="1133.1" width="4.1" height="7.0"/><rect x="976.2" y="1161.4" width="4.1" height="7.0"/><rect x="976.2" y="1195.7" width="4.1" height="0.9"/><rect x="976.2" y="1217.9" width="4.1" height="7.0"/><rect x="976.2" y="1246.2" width="4.1" height="7.0"/></g>
<text x="1169.3" y="253.8" text-anchor="end" font-family="DejaVu Sans, Liberation Sans, sans-serif" style="font-kerning:none;font-variant-ligatures:none" font-size="49.5" fill="#000" stroke="#000" stroke-width="0.5">o__Bacteroidales</text>
<text x="1169.3" y="337.0" text-anchor="end" font-family="DejaVu Sans, Liberation Sans, sans-serif" style="font-kerning:none;font-variant-ligatures:none" font-size="49.5" fill="#000" stroke="#000" stroke-width="0.5">c__Bacteroidia</text>
<text x="1169.3" y="420.2" text-anchor="end" font-family="DejaVu Sans, Liberation Sans, sans-serif" style="font-kerning:none;font-variant-ligatures:none" font-size="49.5" fill="#000" stroke="#000" stroke-width="0.5">p__Bacteroidetes</text>
<text x="1169.3" y="503.3" text-anchor="end" font-family="DejaVu Sans, Liberation Sans, sans-serif" style="font-kerning:none;font-variant-ligatures:none" font-size="49.5" fill="#000" stroke="#000" stroke-width="0.5">f__Muribaculaceae</text>
<text x="1169.3" y="586.5" text-anchor="end" font-family="DejaVu Sans, Liberation Sans, sans-serif" style="font-kerning:none;font-variant-ligatures:none" font-size="49.5" fill="#000" stroke="#000" stroke-width="0.5">f__Bacteroidaceae</text>
<text x="1169.3" y="669.6" text-anchor="end" font-family="DejaVu Sans, Liberation Sans, sans-serif" style="font-kerning:none;font-variant-ligatures:none" font-size="49.5" fill="#000" stroke="#000" stroke-width="0.5">g__Bacteroides</text>
<text x="1169.3" y="752.8" text-anchor="end" font-family="DejaVu Sans, Liberation Sans, sans-serif" style="font-kerning:none;font-variant-ligatures:none" font-size="49.5" fill="#000" stroke="#000" stroke-width="0.5">s__Bacteroides_vulgatus</text>
<text x="1169.3" y="835.9" text-anchor="end" font-family="DejaVu Sans, Liberation Sans, sans-serif" style="font-kerning:none;font-variant-ligatures:none" font-size="49.5" fill="#000" stroke="#000" stroke-width="0.5">g__Muribaculum</text>
<text x="1214.9" y="919.1" font-family="DejaVu Sans, Liberation Sans, sans-serif" style="font-kerning:none;font-variant-ligatures:none" font-size="49.5" fill="#000" stroke="#000" stroke-width="0.5">f__Ruminococcaceae</text>
<text x="1214.9" y="1002.2" font-family="DejaVu Sans, Liberation Sans, sans-serif" style="font-kerning:none;font-variant-ligatures:none" font-size="49.5" fill="#000" stroke="#000" stroke-width="0.5">f__Lachnospiraceae</text>
<text x="1214.9" y="1085.4" font-family="DejaVu Sans, Liberation Sans, sans-serif" style="font-kerning:none;font-variant-ligatures:none" font-size="49.5" fill="#000" stroke="#000" stroke-width="0.5">p__Firmicutes</text>
<text x="1214.9" y="1168.5" font-family="DejaVu Sans, Liberation Sans, sans-serif" style="font-kerning:none;font-variant-ligatures:none" font-size="49.5" fill="#000" stroke="#000" stroke-width="0.5">c__Clostridia</text>
<text x="1214.9" y="1251.7" font-family="DejaVu Sans, Liberation Sans, sans-serif" style="font-kerning:none;font-variant-ligatures:none" font-size="49.5" fill="#000" stroke="#000" stroke-width="0.5">o__Clostridiales</text>
<text x="124.0" y="1402.5" text-anchor="middle" font-family="DejaVu Sans, Liberation Sans, sans-serif" style="font-kerning:none;font-variant-ligatures:none" font-size="85.5" fill="#000" stroke="#000" stroke-width="0.6">−6.0</text>
<text x="337.6" y="1402.5" text-anchor="middle" font-family="DejaVu Sans, Liberation Sans, sans-serif" style="font-kerning:none;font-variant-ligatures:none" font-size="85.5" fill="#000" stroke="#000" stroke-width="0.6">−4.8</text>
<text x="551.1" y="1402.5" text-anchor="middle" font-family="DejaVu Sans, Liberation Sans, sans-serif" style="font-kerning:none;font-variant-ligatures:none" font-size="85.5" fill="#000" stroke="#000" stroke-width="0.6">−3.6</text>
<text x="764.7" y="1402.5" text-anchor="middle" font-family="DejaVu Sans, Liberation Sans, sans-serif" style="font-kerning:none;font-variant-ligatures:none" font-size="85.5" fill="#000" stroke="#000" stroke-width="0.6">−2.4</text>
<text x="978.2" y="1402.5" text-anchor="middle" font-family="DejaVu Sans, Liberation Sans, sans-serif" style="font-kerning:none;font-variant-ligatures:none" font-size="85.5" fill="#000" stroke="#000" stroke-width="0.6">−1.2</text>
<text x="1191.8" y="1402.5" text-anchor="middle" font-family="DejaVu Sans, Liberation Sans, sans-serif" style="font-kerning:none;font-variant-ligatures:none" font-size="85.5" fill="#000" stroke="#000" stroke-width="0.6">0.0</text>
<text x="1405.4" y="1402.5" text-anchor="middle" font-family="DejaVu Sans, Liberation Sans, sans-serif" style="font-kerning:none;font-variant-ligatures:none" font-size="85.5" fill="#000" stroke="#000" stroke-width="0.6">1.2</text>
<text x="1618.9" y="1402.5" text-anchor="middle" font-family="DejaVu Sans, Liberation Sans, sans-serif" style="font-kerning:none;font-variant-ligatures:none" font-size="85.5" fill="#000" stroke="#000" stroke-width="0.6">2.4</text>
<text x="1832.5" y="1402.5" text-anchor="middle" font-family="DejaVu Sans, Liberation Sans, sans-serif" style="font-kerning:none;font-variant-ligatures:none" font-size="85.5" fill="#000" stroke="#000" stroke-width="0.6">3.6</text>
<text x="2046.0" y="1402.5" text-anchor="middle" font-family="DejaVu Sans, Liberation Sans, sans-serif" style="font-kerning:none;font-variant-ligatures:none" font-size="85.5" fill="#000" stroke="#000" stroke-width="0.6">4.8</text>
<text x="2259.6" y="1402.5" text-anchor="middle" font-family="DejaVu Sans, Liberation Sans, sans-serif" style="font-kerning:none;font-variant-ligatures:none" font-size="85.5" fill="#000" stroke="#000" stroke-width="0.6">6.0</text>
<text x="768.0" y="1519.9" font-family="DejaVu Sans, Liberation Sans, sans-serif" style="font-kerning:none;font-variant-ligatures:none" font-size="84.7" fill="#000" stroke="#000" stroke-width="1.1">LDA SCORE (log 10)</text>
<rect x="205.0" y="1800.0" width="142.0" height="55.0" fill="#0a0a0a"/>
<rect x="209.7" y="1804.7" width="132.6" height="45.6" fill="#8a0000"/>
<rect x="212.2" y="1807.2" width="127.6" height="40.6" fill="#ff0000"/>
<rect x="735.5" y="1800.0" width="141.5" height="55.0" fill="#0a0a0a"/>
<rect x="740.2" y="1804.7" width="132.1" height="45.6" fill="#004400"/>
<rect x="742.7" y="1807.2" width="127.1" height="40.6" fill="#008000"/>
<g transform="translate(371.5 1852.5) scale(1 1.075)"><text x="0" y="0" font-family="Liberation Serif, serif" font-size="73.5" fill="#3a3a3a">LAL</text></g>
<g transform="translate(898.8 1852.5) scale(1 1.075)"><text x="0" y="0" font-family="Liberation Serif, serif" font-size="72.5" fill="#3a3a3a">LIF</text></g>
<rect x="534" y="1837" width="3" height="16" fill="#e6e6e6"/><rect x="566" y="1838" width="13" height="6.5" fill="#ececec"/>
<g fill="#484848" opacity="1.0"><rect x="382.8" y="1949.0" width="4.0" height="7.0"/><rect x="382.8" y="1975.9" width="4.0" height="7.0"/><rect x="382.8" y="2002.9" width="4.0" height="7.0"/><rect x="382.8" y="2029.8" width="4.0" height="7.0"/><rect x="382.8" y="2056.8" width="4.0" height="7.0"/><rect x="382.8" y="2083.7" width="4.0" height="7.0"/><rect x="382.8" y="2110.6" width="4.0" height="7.0"/><rect x="382.8" y="2137.6" width="4.0" height="7.0"/><rect x="382.8" y="2164.5" width="4.0" height="7.0"/><rect x="382.8" y="2191.5" width="4.0" height="7.0"/><rect x="382.8" y="2218.4" width="4.0" height="7.0"/><rect x="382.8" y="2245.3" width="4.0" height="7.0"/><rect x="382.8" y="2272.3" width="4.0" height="7.0"/><rect x="382.8" y="2299.2" width="4.0" height="7.0"/><rect x="382.8" y="2326.2" width="4.0" height="7.0"/><rect x="382.8" y="2353.1" width="4.0" height="7.0"/><rect x="382.8" y="2380.0" width="4.0" height="7.0"/><rect x="382.8" y="2407.0" width="4.0" height="7.0"/><rect x="382.8" y="2433.9" width="4.0" height="7.0"/><rect x="382.8" y="2460.9" width="4.0" height="7.0"/><rect x="382.8" y="2487.8" width="4.0" height="7.0"/><rect x="382.8" y="2514.7" width="4.0" height="7.0"/><rect x="382.8" y="2541.7" width="4.0" height="7.0"/><rect x="382.8" y="2568.6" width="4.0" height="7.0"/><rect x="382.8" y="2595.6" width="4.0" height="7.0"/><rect x="382.8" y="2622.5" width="4.0" height="7.0"/><rect x="382.8" y="2649.4" width="4.0" height="7.0"/><rect x="382.8" y="2676.4" width="4.0" height="7.0"/><rect x="382.8" y="2703.3" width="4.0" height="7.0"/><rect x="382.8" y="2730.3" width="4.0" height="7.0"/><rect x="382.8" y="2757.2" width="4.0" height="7.0"/><rect x="382.8" y="2784.1" width="4.0" height="7.0"/><rect x="382.8" y="2811.1" width="4.0" height="7.0"/><rect x="382.8" y="2838.0" width="4.0" height="7.0"/><rect x="382.8" y="2865.0" width="4.0" height="7.0"/><rect x="382.8" y="2891.9" width="4.0" height="7.0"/><rect x="382.8" y="2918.8" width="4.0" height="7.0"/><rect x="382.8" y="2945.8" width="4.0" height="7.0"/><rect x="382.8" y="2972.7" width="4.0" height="7.0"/><rect x="382.8" y="2999.7" width="4.0" height="7.0"/><rect x="382.8" y="3026.6" width="4.0" height="7.0"/><rect x="382.8" y="3053.5" width="4.0" height="7.0"/><rect x="382.8" y="3080.5" width="4.0" height="7.0"/><rect x="382.8" y="3107.4" width="4.0" height="7.0"/><rect x="382.8" y="3134.4" width="4.0" height="7.0"/><rect x="382.8" y="3161.3" width="4.0" height="7.0"/></g>
<g fill="#484848" opacity="1.0"><rect x="790.2" y="1949.0" width="4.0" height="7.0"/><rect x="790.2" y="1975.9" width="4.0" height="7.0"/><rect x="790.2" y="2002.9" width="4.0" height="7.0"/><rect x="790.2" y="2029.8" width="4.0" height="7.0"/><rect x="790.2" y="2056.8" width="4.0" height="7.0"/><rect x="790.2" y="2083.7" width="4.0" height="7.0"/><rect x="790.2" y="2110.6" width="4.0" height="7.0"/><rect x="790.2" y="2137.6" width="4.0" height="7.0"/><rect x="790.2" y="2164.5" width="4.0" height="7.0"/><rect x="790.2" y="2191.5" width="4.0" height="7.0"/><rect x="790.2" y="2218.4" width="4.0" height="7.0"/><rect x="790.2" y="2245.3" width="4.0" height="7.0"/><rect x="790.2" y="2272.3" width="4.0" height="7.0"/><rect x="790.2" y="2299.2" width="4.0" height="7.0"/><rect x="790.2" y="2326.2" width="4.0" height="7.0"/><rect x="790.2" y="2353.1" width="4.0" height="7.0"/><rect x="790.2" y="2380.0" width="4.0" height="7.0"/><rect x="790.2" y="2407.0" width="4.0" height="7.0"/><rect x="790.2" y="2433.9" width="4.0" height="7.0"/><rect x="790.2" y="2460.9" width="4.0" height="7.0"/><rect x="790.2" y="2487.8" width="4.0" height="7.0"/><rect x="790.2" y="2514.7" width="4.0" height="7.0"/><rect x="790.2" y="2541.7" width="4.0" height="7.0"/><rect x="790.2" y="2568.6" width="4.0" height="7.0"/><rect x="790.2" y="2595.6" width="4.0" height="7.0"/><rect x="790.2" y="2622.5" width="4.0" height="7.0"/><rect x="790.2" y="2649.4" width="4.0" height="7.0"/><rect x="790.2" y="2676.4" width="4.0" height="7.0"/><rect x="790.2" y="2703.3" width="4.0" height="7.0"/><rect x="790.2" y="2730.3" width="4.0" height="7.0"/><rect x="790.2" y="2757.2" width="4.0" height="7.0"/><rect x="790.2" y="2784.1" width="4.0" height="7.0"/><rect x="790.2" y="2811.1" width="4.0" height="7.0"/><rect x="790.2" y="2838.0" width="4.0" height="7.0"/><rect x="790.2" y="2865.0" width="4.0" height="7.0"/><rect x="790.2" y="2891.9" width="4.0" height="7.0"/><rect x="790.2" y="2918.8" width="4.0" height="7.0"/><rect x="790.2" y="2945.8" width="4.0" height="7.0"/><rect x="790.2" y="2972.7" width="4.0" height="7.0"/><rect x="790.2" y="2999.7" width="4.0" height="7.0"/><rect x="790.2" y="3026.6" width="4.0" height="7.0"/><rect x="790.2" y="3053.5" width="4.0" height="7.0"/><rect x="790.2" y="3080.5" width="4.0" height="7.0"/><rect x="790.2" y="3107.4" width="4.0" height="7.0"/><rect x="790.2" y="3134.4" width="4.0" height="7.0"/><rect x="790.2" y="3161.3" width="4.0" height="7.0"/></g>
<g fill="#484848" opacity="1.0"><rect x="1197.7" y="1949.0" width="4.0" height="7.0"/><rect x="1197.7" y="1975.9" width="4.0" height="7.0"/><rect x="1197.7" y="2002.9" width="4.0" height="7.0"/><rect x="1197.7" y="2029.8" width="4.0" height="7.0"/><rect x="1197.7" y="2056.8" width="4.0" height="7.0"/><rect x="1197.7" y="2083.7" width="4.0" height="7.0"/><rect x="1197.7" y="2110.6" width="4.0" height="7.0"/><rect x="1197.7" y="2137.6" width="4.0" height="7.0"/><rect x="1197.7" y="2164.5" width="4.0" height="7.0"/><rect x="1197.7" y="2191.5" width="4.0" height="7.0"/><rect x="1197.7" y="2218.4" width="4.0" height="7.0"/><rect x="1197.7" y="2245.3" width="4.0" height="7.0"/><rect x="1197.7" y="2272.3" width="4.0" height="7.0"/><rect x="1197.7" y="2299.2" width="4.0" height="7.0"/><rect x="1197.7" y="2326.2" width="4.0" height="7.0"/><rect x="1197.7" y="2353.1" width="4.0" height="7.0"/><rect x="1197.7" y="2380.0" width="4.0" height="7.0"/><rect x="1197.7" y="2407.0" width="4.0" height="7.0"/><rect x="1197.7" y="2433.9" width="4.0" height="7.0"/><rect x="1197.7" y="2460.9" width="4.0" height="7.0"/><rect x="1197.7" y="2487.8" width="4.0" height="7.0"/><rect x="1197.7" y="2514.7" width="4.0" height="7.0"/><rect x="1197.7" y="2541.7" width="4.0" height="7.0"/><rect x="1197.7" y="2568.6" width="4.0" height="7.0"/><rect x="1197.7" y="2595.6" width="4.0" height="7.0"/><rect x="1197.7" y="2622.5" width="4.0" height="7.0"/><rect x="1197.7" y="2649.4" width="4.0" height="7.0"/><rect x="1197.7" y="2676.4" width="4.0" height="7.0"/><rect x="1197.7" y="2703.3" width="4.0" height="7.0"/><rect x="1197.7" y="2730.3" width="4.0" height="7.0"/><rect x="1197.7" y="2757.2" width="4.0" height="7.0"/><rect x="1197.7" y="2784.1" width="4.0" height="7.0"/><rect x="1197.7" y="2811.1" width="4.0" height="7.0"/><rect x="1197.7" y="2838.0" width="4.0" height="7.0"/><rect x="1197.7" y="2865.0" width="4.0" height="7.0"/><rect x="1197.7" y="2891.9" width="4.0" height="7.0"/><rect x="1197.7" y="2918.8" width="4.0" height="7.0"/><rect x="1197.7" y="2945.8" width="4.0" height="7.0"/><rect x="1197.7" y="2972.7" width="4.0" height="7.0"/><rect x="1197.7" y="2999.7" width="4.0" height="7.0"/><rect x="1197.7" y="3026.6" width="4.0" height="7.0"/><rect x="1197.7" y="3053.5" width="4.0" height="7.0"/><rect x="1197.7" y="3080.5" width="4.0" height="7.0"/><rect x="1197.7" y="3107.4" width="4.0" height="7.0"/><rect x="1197.7" y="3134.4" width="4.0" height="7.0"/><rect x="1197.7" y="3161.3" width="4.0" height="7.0"/></g>
<g fill="#484848" opacity="1.0"><rect x="1605.1" y="1949.0" width="4.0" height="7.0"/><rect x="1605.1" y="1975.9" width="4.0" height="7.0"/><rect x="1605.1" y="2002.9" width="4.0" height="7.0"/><rect x="1605.1" y="2029.8" width="4.0" height="7.0"/><rect x="1605.1" y="2056.8" width="4.0" height="7.0"/><rect x="1605.1" y="2083.7" width="4.0" height="7.0"/><rect x="1605.1" y="2110.6" width="4.0" height="7.0"/><rect x="1605.1" y="2137.6" width="4.0" height="7.0"/><rect x="1605.1" y="2164.5" width="4.0" height="7.0"/><rect x="1605.1" y="2191.5" width="4.0" height="7.0"/><rect x="1605.1" y="2218.4" width="4.0" height="7.0"/><rect x="1605.1" y="2245.3" width="4.0" height="7.0"/><rect x="1605.1" y="2272.3" width="4.0" height="7.0"/><rect x="1605.1" y="2299.2" width="4.0" height="7.0"/><rect x="1605.1" y="2326.2" width="4.0" height="7.0"/><rect x="1605.1" y="2353.1" width="4.0" height="7.0"/><rect x="1605.1" y="2380.0" width="4.0" height="7.0"/><rect x="1605.1" y="2407.0" width="4.0" height="7.0"/><rect x="1605.1" y="2433.9" width="4.0" height="7.0"/><rect x="1605.1" y="2460.9" width="4.0" height="7.0"/><rect x="1605.1" y="2487.8" width="4.0" height="7.0"/><rect x="1605.1" y="2514.7" width="4.0" height="7.0"/><rect x="1605.1" y="2541.7" width="4.0" height="7.0"/><rect x="1605.1" y="2568.6" width="4.0" height="7.0"/><rect x="1605.1" y="2595.6" width="4.0" height="7.0"/><rect x="1605.1" y="2622.5" width="4.0" height="7.0"/><rect x="1605.1" y="2649.4" width="4.0" height="7.0"/><rect x="1605.1" y="2676.4" width="4.0" height="7.0"/><rect x="1605.1" y="2703.3" width="4.0" height="7.0"/><rect x="1605.1" y="2730.3" width="4.0" height="7.0"/><rect x="1605.1" y="2757.2" width="4.0" height="7.0"/><rect x="1605.1" y="2784.1" width="4.0" height="7.0"/><rect x="1605.1" y="2811.1" width="4.0" height="7.0"/><rect x="1605.1" y="2838.0" width="4.0" height="7.0"/><rect x="1605.1" y="2865.0" width="4.0" height="7.0"/><rect x="1605.1" y="2891.9" width="4.0" height="7.0"/><rect x="1605.1" y="2918.8" width="4.0" height="7.0"/><rect x="1605.1" y="2945.8" width="4.0" height="7.0"/><rect x="1605.1" y="2972.7" width="4.0" height="7.0"/><rect x="1605.1" y="2999.7" width="4.0" height="7.0"/><rect x="1605.1" y="3026.6" width="4.0" height="7.0"/><rect x="1605.1" y="3053.5" width="4.0" height="7.0"/><rect x="1605.1" y="3080.5" width="4.0" height="7.0"/><rect x="1605.1" y="3107.4" width="4.0" height="7.0"/><rect x="1605.1" y="3134.4" width="4.0" height="7.0"/><rect x="1605.1" y="3161.3" width="4.0" height="7.0"/></g>
<g fill="#484848" opacity="1.0"><rect x="2012.5" y="1949.0" width="4.0" height="7.0"/><rect x="2012.5" y="1975.9" width="4.0" height="7.0"/><rect x="2012.5" y="2002.9" width="4.0" height="7.0"/><rect x="2012.5" y="2029.8" width="4.0" height="7.0"/><rect x="2012.5" y="2056.8" width="4.0" height="7.0"/><rect x="2012.5" y="2083.7" width="4.0" height="7.0"/><rect x="2012.5" y="2110.6" width="4.0" height="7.0"/><rect x="2012.5" y="2137.6" width="4.0" height="7.0"/><rect x="2012.5" y="2164.5" width="4.0" height="7.0"/><rect x="2012.5" y="2191.5" width="4.0" height="7.0"/><rect x="2012.5" y="2218.4" width="4.0" height="7.0"/><rect x="2012.5" y="2245.3" width="4.0" height="7.0"/><rect x="2012.5" y="2272.3" width="4.0" height="7.0"/><rect x="2012.5" y="2299.2" width="4.0" height="7.0"/><rect x="2012.5" y="2326.2" width="4.0" height="7.0"/><rect x="2012.5" y="2353.1" width="4.0" height="7.0"/><rect x="2012.5" y="2380.0" width="4.0" height="7.0"/><rect x="2012.5" y="2407.0" width="4.0" height="7.0"/><rect x="2012.5" y="2433.9" width="4.0" height="7.0"/><rect x="2012.5" y="2460.9" width="4.0" height="7.0"/><rect x="2012.5" y="2487.8" width="4.0" height="7.0"/><rect x="2012.5" y="2514.7" width="4.0" height="7.0"/><rect x="2012.5" y="2541.7" width="4.0" height="7.0"/><rect x="2012.5" y="2568.6" width="4.0" height="7.0"/><rect x="2012.5" y="2595.6" width="4.0" height="7.0"/><rect x="2012.5" y="2622.5" width="4.0" height="7.0"/><rect x="2012.5" y="2649.4" width="4.0" height="7.0"/><rect x="2012.5" y="2676.4" width="4.0" height="7.0"/><rect x="2012.5" y="2703.3" width="4.0" height="7.0"/><rect x="2012.5" y="2730.3" width="4.0" height="7.0"/><rect x="2012.5" y="2757.2" width="4.0" height="7.0"/><rect x="2012.5" y="2784.1" width="4.0" height="7.0"/><rect x="2012.5" y="2811.1" width="4.0" height="7.0"/><rect x="2012.5" y="2838.0" width="4.0" height="7.0"/><rect x="2012.5" y="2865.0" width="4.0" height="7.0"/><rect x="2012.5" y="2891.9" width="4.0" height="7.0"/><rect x="2012.5" y="2918.8" width="4.0" height="7.0"/><rect x="2012.5" y="2945.8" width="4.0" height="7.0"/><rect x="2012.5" y="2972.7" width="4.0" height="7.0"/><rect x="2012.5" y="2999.7" width="4.0" height="7.0"/><rect x="2012.5" y="3026.6" width="4.0" height="7.0"/><rect x="2012.5" y="3053.5" width="4.0" height="7.0"/><rect x="2012.5" y="3080.5" width="4.0" height="7.0"/><rect x="2012.5" y="3107.4" width="4.0" height="7.0"/><rect x="2012.5" y="3134.4" width="4.0" height="7.0"/><rect x="2012.5" y="3161.3" width="4.0" height="7.0"/></g>
<rect x="382.8" y="1919.0" width="4.0" height="27.0" fill="#262626"/>
<rect x="790.2" y="1919.0" width="4.0" height="27.0" fill="#262626"/>
<rect x="1197.7" y="1919.0" width="4.0" height="27.0" fill="#262626"/>
<rect x="1605.1" y="1919.0" width="4.0" height="27.0" fill="#262626"/>
<rect x="2012.5" y="1919.0" width="4.0" height="27.0" fill="#262626"/>
<rect x="382.8" y="3188.3" width="4.0" height="35.1" fill="#262626"/>
<rect x="790.2" y="3188.3" width="4.0" height="35.1" fill="#262626"/>
<rect x="1197.7" y="3188.3" width="4.0" height="35.1" fill="#262626"/>
<rect x="1605.1" y="3188.3" width="4.0" height="35.1" fill="#262626"/>
<rect x="2012.5" y="3188.3" width="4.0" height="35.1" fill="#262626"/>
<rect x="1196.7" y="1964.2" width="850.0" height="72.0" fill="#0a0a0a"/>
<rect x="1201.4" y="1968.9" width="840.6" height="62.6" fill="#004400"/>
<rect x="1203.9" y="1971.4" width="835.6" height="57.6" fill="#008000"/>
<rect x="1196.7" y="2045.7" width="850.0" height="72.0" fill="#0a0a0a"/>
<rect x="1201.4" y="2050.4" width="840.6" height="62.6" fill="#004400"/>
<rect x="1203.9" y="2052.9" width="835.6" height="57.6" fill="#008000"/>
<rect x="1196.7" y="2127.2" width="848.8" height="72.0" fill="#0a0a0a"/>
<rect x="1201.4" y="2131.9" width="839.4" height="62.6" fill="#004400"/>
<rect x="1203.9" y="2134.4" width="834.4" height="57.6" fill="#008000"/>
<rect x="1196.7" y="2208.7" width="848.8" height="72.0" fill="#0a0a0a"/>
<rect x="1201.4" y="2213.4" width="839.4" height="62.6" fill="#004400"/>
<rect x="1203.9" y="2215.9" width="834.4" height="57.6" fill="#008000"/>
<rect x="1196.7" y="2290.2" width="836.2" height="72.0" fill="#0a0a0a"/>
<rect x="1201.4" y="2294.9" width="826.8" height="62.6" fill="#004400"/>
<rect x="1203.9" y="2297.4" width="821.8" height="57.6" fill="#008000"/>
<rect x="380.0" y="2371.7" width="823.2" height="72.0" fill="#0a0a0a"/>
<rect x="384.7" y="2376.4" width="813.8" height="62.6" fill="#8a0000"/>
<rect x="387.2" y="2378.9" width="808.8" height="57.6" fill="#ff0000"/>
<rect x="380.0" y="2453.2" width="823.2" height="72.0" fill="#0a0a0a"/>
<rect x="384.7" y="2457.9" width="813.8" height="62.6" fill="#8a0000"/>
<rect x="387.2" y="2460.4" width="808.8" height="57.6" fill="#ff0000"/>
<rect x="380.0" y="2534.7" width="823.2" height="72.0" fill="#0a0a0a"/>
<rect x="384.7" y="2539.4" width="813.8" height="62.6" fill="#8a0000"/>
<rect x="387.2" y="2541.9" width="808.8" height="57.6" fill="#ff0000"/>
<rect x="380.0" y="2616.2" width="823.2" height="72.0" fill="#0a0a0a"/>
<rect x="384.7" y="2620.9" width="813.8" height="62.6" fill="#8a0000"/>
<rect x="387.2" y="2623.4" width="808.8" height="57.6" fill="#ff0000"/>
<rect x="380.0" y="2697.7" width="823.2" height="72.0" fill="#0a0a0a"/>
<rect x="384.7" y="2702.4" width="813.8" height="62.6" fill="#8a0000"/>
<rect x="387.2" y="2704.9" width="808.8" height="57.6" fill="#ff0000"/>
<rect x="362.3" y="2779.2" width="840.9" height="72.0" fill="#0a0a0a"/>
<rect x="367.0" y="2783.9" width="831.5" height="62.6" fill="#8a0000"/>
<rect x="369.5" y="2786.4" width="826.5" height="57.6" fill="#ff0000"/>
<rect x="362.3" y="2860.7" width="840.9" height="72.0" fill="#0a0a0a"/>
<rect x="367.0" y="2865.4" width="831.5" height="62.6" fill="#8a0000"/>
<rect x="369.5" y="2867.9" width="826.5" height="57.6" fill="#ff0000"/>
<rect x="361.0" y="2942.2" width="842.2" height="72.0" fill="#0a0a0a"/>
<rect x="365.7" y="2946.9" width="832.8" height="62.6" fill="#8a0000"/>
<rect x="368.2" y="2949.4" width="827.8" height="57.6" fill="#ff0000"/>
<rect x="357.4" y="3023.7" width="845.8" height="72.0" fill="#0a0a0a"/>
<rect x="362.1" y="3028.4" width="836.4" height="62.6" fill="#8a0000"/>
<rect x="364.6" y="3030.9" width="831.4" height="57.6" fill="#ff0000"/>
<rect x="357.4" y="3105.2" width="845.8" height="72.0" fill="#0a0a0a"/>
<rect x="362.1" y="3109.9" width="836.4" height="62.6" fill="#8a0000"/>
<rect x="364.6" y="3112.4" width="831.4" height="57.6" fill="#ff0000"/>
<g fill="#000" opacity="0.36"><rect x="1605.1" y="1975.9" width="4.0" height="7.0"/><rect x="1605.1" y="2002.9" width="4.0" height="7.0"/><rect x="1605.1" y="2029.8" width="4.0" height="1.4"/><rect x="1605.1" y="2056.8" width="4.0" height="7.0"/><rect x="1605.1" y="2083.7" width="4.0" height="7.0"/><rect x="1605.1" y="2110.6" width="4.0" height="2.1"/><rect x="1605.1" y="2137.6" width="4.0" height="7.0"/><rect x="1605.1" y="2164.5" width="4.0" height="7.0"/><rect x="1605.1" y="2191.5" width="4.0" height="2.7"/><rect x="1605.1" y="2218.4" width="4.0" height="7.0"/><rect x="1605.1" y="2245.3" width="4.0" height="7.0"/><rect x="1605.1" y="2272.3" width="4.0" height="3.4"/><rect x="1605.1" y="2299.2" width="4.0" height="7.0"/><rect x="1605.1" y="2326.2" width="4.0" height="7.0"/><rect x="1605.1" y="2353.1" width="4.0" height="4.1"/><rect x="2012.5" y="1975.9" width="4.0" height="7.0"/><rect x="2012.5" y="2002.9" width="4.0" height="7.0"/><rect x="2012.5" y="2029.8" width="4.0" height="1.4"/><rect x="2012.5" y="2056.8" width="4.0" height="7.0"/><rect x="2012.5" y="2083.7" width="4.0" height="7.0"/><rect x="2012.5" y="2110.6" width="4.0" height="2.1"/><rect x="2012.5" y="2137.6" width="4.0" height="7.0"/><rect x="2012.5" y="2164.5" width="4.0" height="7.0"/><rect x="2012.5" y="2191.5" width="4.0" height="2.7"/><rect x="2012.5" y="2218.4" width="4.0" height="7.0"/><rect x="2012.5" y="2245.3" width="4.0" height="7.0"/><rect x="2012.5" y="2272.3" width="4.0" height="3.4"/><rect x="2012.5" y="2299.2" width="4.0" height="7.0"/><rect x="2012.5" y="2326.2" width="4.0" height="7.0"/><rect x="2012.5" y="2353.1" width="4.0" height="4.1"/></g>
<g fill="#300" opacity="0.2"><rect x="382.8" y="2380.0" width="4.0" height="7.0"/><rect x="382.8" y="2407.0" width="4.0" height="7.0"/><rect x="382.8" y="2433.9" width="4.0" height="4.8"/><rect x="382.8" y="2460.9" width="4.0" height="7.0"/><rect x="382.8" y="2487.8" width="4.0" height="7.0"/><rect x="382.8" y="2514.7" width="4.0" height="5.5"/><rect x="382.8" y="2541.7" width="4.0" height="7.0"/><rect x="382.8" y="2568.6" width="4.0" height="7.0"/><rect x="382.8" y="2595.6" width="4.0" height="6.1"/><rect x="382.8" y="2622.5" width="4.0" height="7.0"/><rect x="382.8" y="2649.4" width="4.0" height="7.0"/><rect x="382.8" y="2676.4" width="4.0" height="6.8"/><rect x="382.8" y="2703.3" width="4.0" height="7.0"/><rect x="382.8" y="2730.3" width="4.0" height="7.0"/><rect x="382.8" y="2757.2" width="4.0" height="7.0"/><rect x="382.8" y="2784.2" width="4.0" height="6.9"/><rect x="382.8" y="2811.1" width="4.0" height="7.0"/><rect x="382.8" y="2838.0" width="4.0" height="7.0"/><rect x="382.8" y="2865.7" width="4.0" height="6.3"/><rect x="382.8" y="2891.9" width="4.0" height="7.0"/><rect x="382.8" y="2918.8" width="4.0" height="7.0"/><rect x="382.8" y="2947.2" width="4.0" height="5.6"/><rect x="382.8" y="2972.7" width="4.0" height="7.0"/><rect x="382.8" y="2999.7" width="4.0" height="7.0"/><rect x="382.8" y="3028.7" width="4.0" height="4.9"/><rect x="382.8" y="3053.5" width="4.0" height="7.0"/><rect x="382.8" y="3080.5" width="4.0" height="7.0"/><rect x="382.8" y="3110.2" width="4.0" height="4.2"/><rect x="382.8" y="3134.4" width="4.0" height="7.0"/><rect x="382.8" y="3161.3" width="4.0" height="7.0"/><rect x="790.2" y="2380.0" width="4.0" height="7.0"/><rect x="790.2" y="2407.0" width="4.0" height="7.0"/><rect x="790.2" y="2433.9" width="4.0" height="4.8"/><rect x="790.2" y="2460.9" width="4.0" height="7.0"/><rect x="790.2" y="2487.8" width="4.0" height="7.0"/><rect x="790.2" y="2514.7" width="4.0" height="5.5"/><rect x="790.2" y="2541.7" width="4.0" height="7.0"/><rect x="790.2" y="2568.6" width="4.0" height="7.0"/><rect x="790.2" y="2595.6" width="4.0" height="6.1"/><rect x="790.2" y="2622.5" width="4.0" height="7.0"/><rect x="790.2" y="2649.4" width="4.0" height="7.0"/><rect x="790.2" y="2676.4" width="4.0" height="6.8"/><rect x="790.2" y="2703.3" width="4.0" height="7.0"/><rect x="790.2" y="2730.3" width="4.0" height="7.0"/><rect x="790.2" y="2757.2" width="4.0" height="7.0"/><rect x="790.2" y="2784.2" width="4.0" height="6.9"/><rect x="790.2" y="2811.1" width="4.0" height="7.0"/><rect x="790.2" y="2838.0" width="4.0" height="7.0"/><rect x="790.2" y="2865.7" width="4.0" height="6.3"/><rect x="790.2" y="2891.9" width="4.0" height="7.0"/><rect x="790.2" y="2918.8" width="4.0" height="7.0"/><rect x="790.2" y="2947.2" width="4.0" height="5.6"/><rect x="790.2" y="2972.7" width="4.0" height="7.0"/><rect x="790.2" y="2999.7" width="4.0" height="7.0"/><rect x="790.2" y="3028.7" width="4.0" height="4.9"/><rect x="790.2" y="3053.5" width="4.0" height="7.0"/><rect x="790.2" y="3080.5" width="4.0" height="7.0"/><rect x="790.2" y="3110.2" width="4.0" height="4.2"/><rect x="790.2" y="3134.4" width="4.0" height="7.0"/><rect x="790.2" y="3161.3" width="4.0" height="7.0"/></g>
<text x="1177.8" y="2024.5" text-anchor="end" font-family="DejaVu Sans, Liberation Sans, sans-serif" style="font-kerning:none;font-variant-ligatures:none" font-size="47.1" fill="#000" stroke="#000" stroke-width="0.5">f__Lactobacillaceae</text>
<text x="1177.8" y="2106.0" text-anchor="end" font-family="DejaVu Sans, Liberation Sans, sans-serif" style="font-kerning:none;font-variant-ligatures:none" font-size="47.1" fill="#000" stroke="#000" stroke-width="0.5">g__Lactobacillus</text>
<text x="1177.8" y="2187.5" text-anchor="end" font-family="DejaVu Sans, Liberation Sans, sans-serif" style="font-kerning:none;font-variant-ligatures:none" font-size="47.1" fill="#000" stroke="#000" stroke-width="0.5">o__Lactobacillales</text>
<text x="1177.8" y="2269.0" text-anchor="end" font-family="DejaVu Sans, Liberation Sans, sans-serif" style="font-kerning:none;font-variant-ligatures:none" font-size="47.1" fill="#000" stroke="#000" stroke-width="0.5">c__Bacilli</text>
<text x="1177.8" y="2350.5" text-anchor="end" font-family="DejaVu Sans, Liberation Sans, sans-serif" style="font-kerning:none;font-variant-ligatures:none" font-size="47.1" fill="#000" stroke="#000" stroke-width="0.5">s__Lactobacillus_reuteri</text>
<text x="1220.4" y="2432.0" font-family="DejaVu Sans, Liberation Sans, sans-serif" style="font-kerning:none;font-variant-ligatures:none" font-size="47.1" fill="#000" stroke="#000" stroke-width="0.5">o__Verrucomicrobiales</text>
<text x="1220.4" y="2513.5" font-family="DejaVu Sans, Liberation Sans, sans-serif" style="font-kerning:none;font-variant-ligatures:none" font-size="47.1" fill="#000" stroke="#000" stroke-width="0.5">g__Akkermansia</text>
<text x="1220.4" y="2595.0" font-family="DejaVu Sans, Liberation Sans, sans-serif" style="font-kerning:none;font-variant-ligatures:none" font-size="47.1" fill="#000" stroke="#000" stroke-width="0.5">c__Verrucomicrobiae</text>
<text x="1220.4" y="2676.5" font-family="DejaVu Sans, Liberation Sans, sans-serif" style="font-kerning:none;font-variant-ligatures:none" font-size="47.1" fill="#000" stroke="#000" stroke-width="0.5">f__Akkermansiaceae</text>
<text x="1220.4" y="2758.0" font-family="DejaVu Sans, Liberation Sans, sans-serif" style="font-kerning:none;font-variant-ligatures:none" font-size="47.1" fill="#000" stroke="#000" stroke-width="0.5">p__Verrucomicrobia</text>
<text x="1220.4" y="2839.5" font-family="DejaVu Sans, Liberation Sans, sans-serif" style="font-kerning:none;font-variant-ligatures:none" font-size="47.1" fill="#000" stroke="#000" stroke-width="0.5">g__Parasutterella</text>
<text x="1220.4" y="2921.0" font-family="DejaVu Sans, Liberation Sans, sans-serif" style="font-kerning:none;font-variant-ligatures:none" font-size="47.1" fill="#000" stroke="#000" stroke-width="0.5">f__Burkholderiaceae</text>
<text x="1220.4" y="3002.5" font-family="DejaVu Sans, Liberation Sans, sans-serif" style="font-kerning:none;font-variant-ligatures:none" font-size="47.1" fill="#000" stroke="#000" stroke-width="0.5">o__unidentified_Gammaproteobacteria</text>
<text x="1220.4" y="3084.0" font-family="DejaVu Sans, Liberation Sans, sans-serif" style="font-kerning:none;font-variant-ligatures:none" font-size="47.1" fill="#000" stroke="#000" stroke-width="0.5">c__Gammaproteobacteria</text>
<text x="1220.4" y="3165.5" font-family="DejaVu Sans, Liberation Sans, sans-serif" style="font-kerning:none;font-variant-ligatures:none" font-size="47.1" fill="#000" stroke="#000" stroke-width="0.5">p__Proteobacteria</text>
<text x="384.8" y="3311" text-anchor="middle" font-family="DejaVu Sans, Liberation Sans, sans-serif" style="font-kerning:none;font-variant-ligatures:none" font-size="82.3" fill="#000" stroke="#000" stroke-width="0.6">−4</text>
<text x="792.2" y="3311" text-anchor="middle" font-family="DejaVu Sans, Liberation Sans, sans-serif" style="font-kerning:none;font-variant-ligatures:none" font-size="82.3" fill="#000" stroke="#000" stroke-width="0.6">−2</text>
<text x="1199.7" y="3311" text-anchor="middle" font-family="DejaVu Sans, Liberation Sans, sans-serif" style="font-kerning:none;font-variant-ligatures:none" font-size="82.3" fill="#000" stroke="#000" stroke-width="0.6">0</text>
<text x="1607.1" y="3311" text-anchor="middle" font-family="DejaVu Sans, Liberation Sans, sans-serif" style="font-kerning:none;font-variant-ligatures:none" font-size="82.3" fill="#000" stroke="#000" stroke-width="0.6">2</text>
<text x="2014.5" y="3311" text-anchor="middle" font-family="DejaVu Sans, Liberation Sans, sans-serif" style="font-kerning:none;font-variant-ligatures:none" font-size="82.3" fill="#000" stroke="#000" stroke-width="0.6">4</text>
<text x="795.8" y="3423.5" font-family="DejaVu Sans, Liberation Sans, sans-serif" style="font-kerning:none;font-variant-ligatures:none" font-size="80.9" fill="#000" stroke="#000" stroke-width="1.1">LDA SCORE (log 10)</text>
</g>
<g transform="translate(1114.4 1719.5) scale(0.9 1)"><text x="0" y="0" font-family="Liberation Serif, serif" font-size="87" fill="#000">(</text></g>
<g transform="translate(1142.0 1718.7) scale(1.0 1.017)"><text x="0" y="0" font-family="Liberation Serif, serif" font-size="87" font-weight="bold" fill="#000">A</text></g>
<g transform="translate(1206.5 1719.5) scale(0.9 1)"><text x="0" y="0" font-family="Liberation Serif, serif" font-size="87" fill="#000">)</text></g>
<g transform="translate(1119.1 3614.7) scale(0.9 1)"><text x="0" y="0" font-family="Liberation Serif, serif" font-size="87" fill="#000">(</text></g>
<g transform="translate(1147.65 3613.9) scale(0.885 1.035)"><text x="0" y="0" font-family="Liberation Serif, serif" font-size="87" font-weight="bold" fill="#000">B</text></g>
<g transform="translate(1201.7 3614.7) scale(0.9 1)"><text x="0" y="0" font-family="Liberation Serif, serif" font-size="87" fill="#000">)</text></g>
</svg>
</body></html>
